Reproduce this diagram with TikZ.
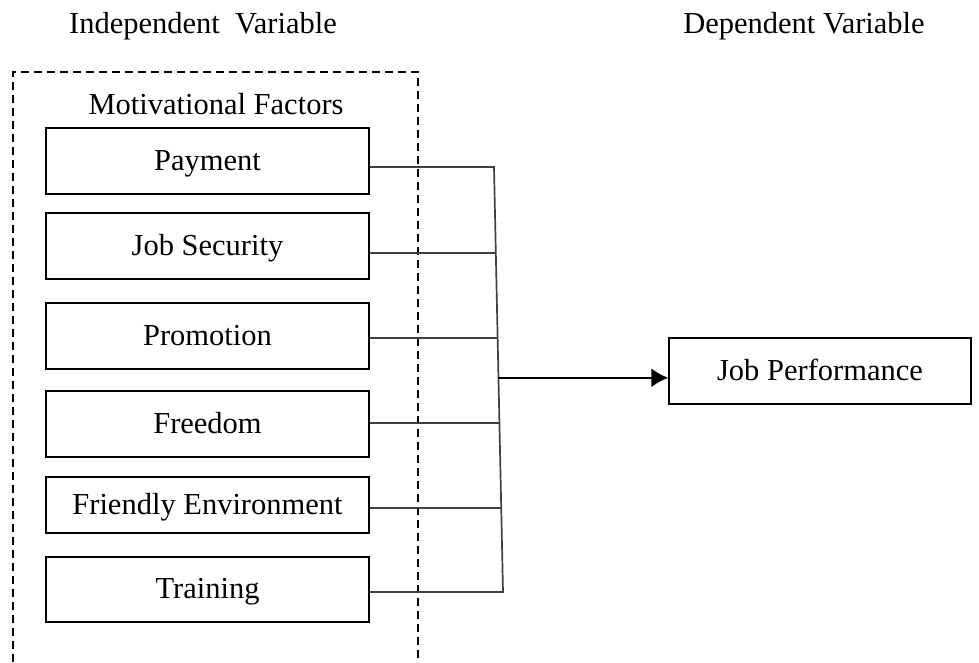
\documentclass[tikz,border=0pt]{standalone}
\usepackage{fontspec}
\setmainfont{Liberation Serif}
\usetikzlibrary{arrows.meta,calc}

\tikzset{
  factor/.style={draw, line width=1.5pt, minimum width=323pt, minimum height=66pt,
    inner sep=0pt, text height=24pt, text depth=6pt, font=\fontsize{30.5}{34}\selectfont},
  heading/.style={inner sep=0pt, anchor=base, font=\fontsize{30.5}{34}\selectfont},
  groupframe/.style={line width=1.5pt, dash pattern=on 8pt off 5pt},
  link/.style={line width=1.7pt, draw=black!75},
  arrowlink/.style={line width=1.7pt, -{Latex[length=17pt,width=19pt]}}
}

\begin{document}
\begin{tikzpicture}[x=1pt, y=-1pt]
  \useasboundingbox (0,0) rectangle (979,662);

  % column headings
  \node[heading] (indep) at (203,33) {Independent\ \ Variable};
  \node[heading] (dep) at (804,33) {Dependent Variable};

  % dashed frame around the motivational factors (open at the bottom)
  \draw[groupframe] (13,662) -- (13,72) -- (418,72) -- (418,662);
  \node[heading] (motiv) at (216,114) {Motivational Factors};

  % factor boxes
  \node[factor] (pay)   at (207.5,161) {Payment};
  \node[factor] (js)    at (207.5,246) {Job Security};
  \node[factor] (promo) at (207.5,336) {Promotion};
  \node[factor] (free)  at (207.5,424) {Freedom};
  \node[factor, minimum height=56pt] (friend) at (207.5,505) {Friendly Environment};
  \node[factor, minimum height=65pt] (train)  at (207.5,589.5) {Training};

  % dependent variable
  \node[factor, minimum width=302pt] (perf) at (820,371) {Job Performance};

  % collecting bus, slightly slanted
  \coordinate (bt) at (494,167);
  \coordinate (bb) at (503,592);
  \coordinate (bjs)     at ($(bt)!0.2024!(bb)$);
  \coordinate (bpromo)  at ($(bt)!0.4024!(bb)$);
  \coordinate (bfree)   at ($(bt)!0.6024!(bb)$);
  \coordinate (bfriend) at ($(bt)!0.8024!(bb)$);
  \coordinate (bout)    at ($(bt)!0.496!(bb)$);

  \draw[link] (pay.east |- bt) -- (bt) -- (bb) -- (train.east |- bb);
  \draw[link] (js.east |- bjs) -- (bjs);
  \draw[link] (promo.east |- bpromo) -- (bpromo);
  \draw[link] (free.east |- bfree) -- (bfree);
  \draw[link] (friend.east |- bfriend) -- (bfriend);

  \draw[arrowlink] (bout) -- (bout -| perf.west);
\end{tikzpicture}
\end{document}
